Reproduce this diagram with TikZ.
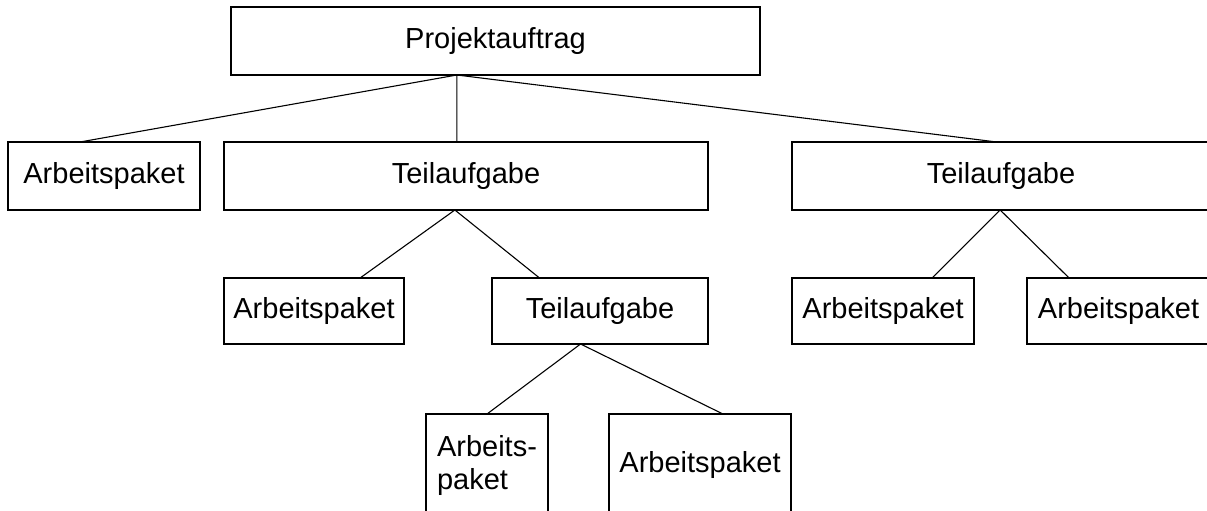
\documentclass[tikz,border=0pt]{standalone}
\usepackage{fontspec}
\setmainfont{Liberation Sans}
\usetikzlibrary{calc}
\begin{document}
\begin{tikzpicture}[x=1pt,y=-1pt,
  box/.style={draw, line width=2.2pt, rectangle, inner sep=0pt, outer sep=0pt,
    font=\fontsize{29}{33}\selectfont},
  conn/.style={line width=1.1pt}]
\useasboundingbox (0,0) rectangle (1207,511);
% level 0
\node[box, minimum width=529pt, minimum height=68pt] (P) at (495.5,41) {Projektauftrag};
% level 1
\node[box, minimum width=192pt, minimum height=68pt] (A1) at (104,176) {Arbeitspaket};
\node[box, minimum width=484pt, minimum height=68pt] (T1) at (466,176) {Teilaufgabe};
\node[box, minimum width=418pt, minimum height=68pt] (T2) at (1001,176) {Teilaufgabe};
% level 2
\node[box, minimum width=180pt, minimum height=66pt] (A2) at (314,311) {Arbeitspaket};
\node[box, minimum width=216pt, minimum height=66pt] (T3) at (600,311) {Teilaufgabe};
\node[box, minimum width=182pt, minimum height=66pt] (A3) at (883,311) {Arbeitspaket};
\node[box, minimum width=183pt, minimum height=66pt] (A4) at (1118.5,311) {Arbeitspaket};
% level 3
\node[box, minimum width=122pt, minimum height=102pt, align=left] (B1) at (487,465) {Arbeits-\\paket};
\node[box, minimum width=182pt, minimum height=102pt] (B2) at (700,465) {Arbeitspaket};
% connectors
\draw[conn] ($(P.south west)!0.427!(P.south east)$) -- ($(A1.north west)!0.375!(A1.north east)$);
\draw[conn] ($(P.south west)!0.427!(P.south east)$) -- ($(T1.north west)!0.481!(T1.north east)$);
\draw[conn] ($(P.south west)!0.427!(P.south east)$) -- ($(T2.north west)!0.49!(T2.north east)$);
\draw[conn] ($(T1.south west)!0.477!(T1.south east)$) -- ($(A2.north west)!0.756!(A2.north east)$);
\draw[conn] ($(T1.south west)!0.477!(T1.south east)$) -- ($(T3.north west)!0.22!(T3.north east)$);
\draw[conn] ($(T2.south west)!0.498!(T2.south east)$) -- ($(A3.north west)!0.77!(A3.north east)$);
\draw[conn] ($(T2.south west)!0.498!(T2.south east)$) -- ($(A4.north west)!0.23!(A4.north east)$);
\draw[conn] ($(T3.south west)!0.41!(T3.south east)$) -- ($(B1.north west)!0.5!(B1.north east)$);
\draw[conn] ($(T3.south west)!0.41!(T3.south east)$) -- ($(B2.north west)!0.626!(B2.north east)$);
\end{tikzpicture}
\end{document}
